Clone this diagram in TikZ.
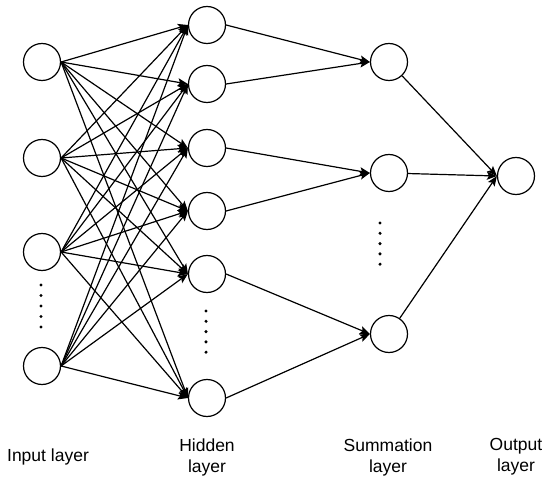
\documentclass[tikz,border=0pt]{standalone}
\usepackage{fontspec}
\setmainfont{Liberation Sans}
\usetikzlibrary{arrows.meta, positioning}

\begin{document}
\begin{tikzpicture}[
    x=1pt, y=-1pt,
    neuron/.style={circle, draw, line width=1.2pt,
                   minimum size=37pt, inner sep=0pt},
    arr/.style={-{Stealth[length=10pt, width=8pt, inset=2pt]}, line width=1.2pt},
    lbl/.style={align=center, font=\fontsize{17.5}{21}\selectfont},
    dotmark/.style={circle, fill, inner sep=0pt, minimum size=3.4pt}
  ]
  \useasboundingbox (0,0) rectangle (550,487);

  % input layer
  \node[neuron] (in1) at (42,62)  {};
  \node[neuron] (in2) at (42,158) {};
  \node[neuron] (in3) at (42,252) {};
  \node[neuron] (in4) at (42,366) {};

  % hidden layer
  \node[neuron] (hid1) at (207,25)  {};
  \node[neuron] (hid2) at (207,84)  {};
  \node[neuron] (hid3) at (207,148) {};
  \node[neuron] (hid4) at (207,211) {};
  \node[neuron] (hid5) at (207,274) {};
  \node[neuron] (hid6) at (207,398) {};

  % summation layer
  \node[neuron] (sum1) at (389,62)  {};
  \node[neuron] (sum2) at (389,173) {};
  \node[neuron] (sum3) at (389,334) {};

  % output layer
  \node[neuron] (out) at (516,176) {};

  % vertical dots
  \foreach \k in {0,...,4} {
    \node[dotmark] (din\k)  at (41,285+10.5*\k)  {};
    \node[dotmark] (dhid\k) at (206,311+10.3*\k) {};
    \node[dotmark] (dsum\k) at (380,223+10.3*\k) {};
  }

  % connections
  \foreach \i in {1,...,4}
    \foreach \j in {1,...,6}
      \draw[arr] (in\i.east) -- (hid\j.west);

  \draw[arr] (hid1.east) -- (sum1.west);
  \draw[arr] (hid2.east) -- (sum1.west);
  \draw[arr] (hid3.east) -- (sum2.west);
  \draw[arr] (hid4.east) -- (sum2.west);
  \draw[arr] (hid5.east) -- (sum3.west);
  \draw[arr] (hid6.east) -- (sum3.west);

  \foreach \k in {1,2,3}
    \draw[arr] (sum\k) -- (out.west);

  % layer names
  \node[lbl] (linput)  at (48,457)  {Input layer};
  \node[lbl] (lhidden) at (207,457) {Hidden\\layer};
  \node[lbl] (lsum)    at (388,457) {Summation\\layer};
  \node[lbl] (lout)    at (516,457) {Output\\layer};
\end{tikzpicture}
\end{document}
